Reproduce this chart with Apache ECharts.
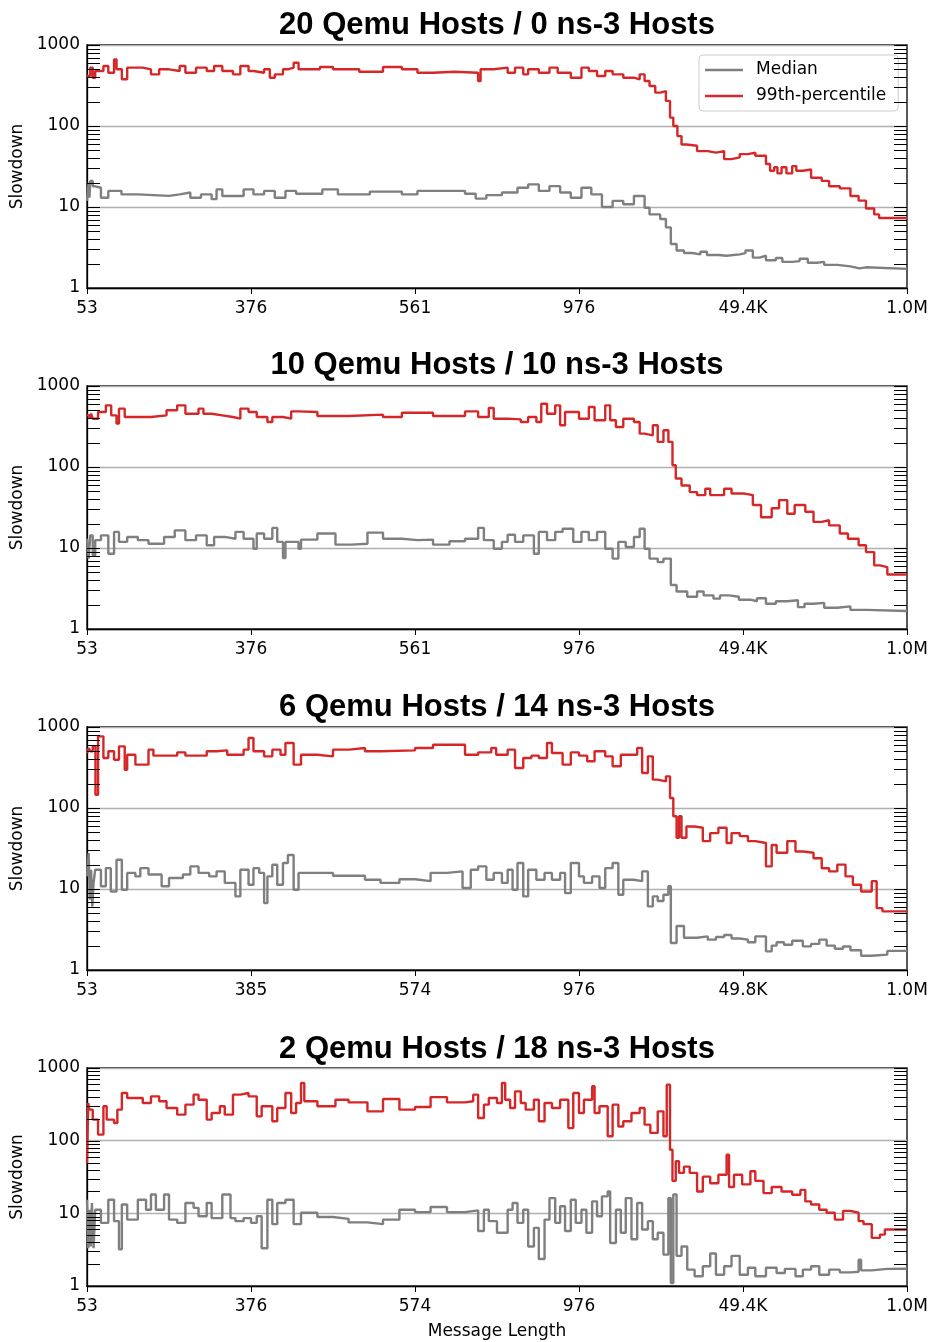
<!DOCTYPE html>
<html><head><meta charset="utf-8">
<script src="https://cdn.jsdelivr.net/npm/echarts/dist/echarts.min.js"></script>
<style>html,body{margin:0;padding:0;background:#fff}#c{width:931px;height:1342px}</style>
</head><body><div id="c"></div>
<script>
// ---------------- data ----------------
const titles = ['20 Qemu Hosts / 0 ns-3 Hosts','10 Qemu Hosts / 10 ns-3 Hosts','6 Qemu Hosts / 14 ns-3 Hosts','2 Qemu Hosts / 18 ns-3 Hosts'];
const xLabels20 = ['53','376','561','976','49.4K','1.0M'];
const xLabels10 = ['53','376','561','976','49.4K','1.0M'];
const xLabels6  = ['53','385','574','976','49.8K','1.0M'];
const xLabels2  = ['53','376','574','976','49.4K','1.0M'];
const yTickValues = [1,2,3,4,5,6,7,8,9,10,20,30,40,50,60,70,80,90,100,200,300,400,500,600,700,800,900,1000];

// [position along axis (%), slowdown]
const q20_med = [[0,11.9],[0.2,20],[0.3,13],[0.4,20.9],[0.7,18],[1.0,17.3],[1.7,13.0],[2.6,15.8],[4.2,14.3],[6.2,13.7],[10.0,14.3],[11.3,15.1],[12.6,13.0],[13.9,14.3],[15.2,12.5],[15.8,16.5],[16.5,13.7],[19.1,16.5],[20.3,14.3],[21.6,15.8],[22.9,13.0],[24.2,15.8],[25.5,14.6],[28.7,16.5],[30.6,14.3],[34.5,15.5],[38.4,14.3],[40.3,15.8],[46.1,14.6],[47.4,12.7],[48.7,14.0],[50.6,15.1],[52.5,17.3],[53.8,19.0],[55.1,15.8],[56.4,18.1],[57.7,15.1],[59.0,13.0],[60.3,17.3],[61.5,14.3],[62.8,10.0],[64.1,11.9],[65.4,10.8],[66.7,13.7],[68.0,9.8],[68.6,8.1],[69.9,7.1],[70.6,5.6],[71.2,3.5],[71.9,2.9],[72.8,2.7],[73.8,2.6],[74.8,2.8],[75.6,2.55],[77.0,2.5],[78.0,2.6],[79.6,2.7],[80.3,2.9],[81.2,2.37],[82.0,2.5],[82.8,2.2],[84.0,2.35],[84.8,2.1],[86.0,2.15],[86.9,2.3],[87.9,2.05],[89.0,2.1],[89.9,1.93],[91.5,1.85],[93.1,1.75],[94.2,1.8],[95.0,1.72]];
const q20_p99 = [[0,414],[0.4,525],[0.7,395],[1.0,477],[2.0,550],[2.6,455],[3.3,665],[3.6,501],[4.25,377],[4.9,525],[6.8,501],[7.8,434],[8.8,501],[10.0,477],[11.3,550],[12.0,455],[13.3,525],[14.6,477],[15.5,550],[16.5,477],[17.8,434],[18.7,550],[19.7,477],[20.3,455],[21.6,501],[22.3,395],[22.9,434],[23.9,501],[24.5,525],[25.2,605],[25.8,501],[28.4,535],[30.0,501],[33.2,468],[36.1,535],[38.4,501],[40.3,455],[42.2,468],[44.8,455],[47.7,359],[48.0,501],[49.6,525],[51.3,455],[52.2,525],[53.2,434],[53.8,501],[55.1,455],[56.4,525],[57.4,455],[59.0,395],[60.3,525],[61.2,477],[62.2,414],[63.2,477],[64.1,434],[65.4,395],[66.7,377],[67.4,434],[68.0,359],[68.6,312],[69.3,258],[69.9,270],[70.6,204],[71.1,127],[71.5,100],[72.0,75],[72.5,59],[73.1,57],[74.4,49],[75.7,47],[76.7,49],[77.7,39],[78.6,41],[79.6,45],[80.6,47],[81.5,43],[82.8,34],[83.3,28],[83.8,31],[84.2,26],[84.7,31],[85.3,26],[86.0,32],[86.5,28],[87.3,29],[88.3,23],[89.6,21],[90.5,18],[91.8,17],[93.1,13.7],[94.1,12],[95.0,9.6],[96.0,8.1],[96.6,7.3]];

const q10_med = [[0,13.0],[0.2,7.4],[0.4,14.3],[0.7,8.1],[1.0,12.5],[1.7,14.3],[2.6,8.5],[3.3,15.8],[3.9,11.9],[4.9,13.7],[6.2,12.5],[7.5,11.3],[9.4,13.7],[10.7,16.5],[12.0,12.5],[13.3,14.3],[14.6,10.8],[15.5,13.7],[16.8,13.0],[18.1,15.8],[19.1,13.0],[20.3,9.8],[20.7,15.1],[21.6,13.0],[22.6,17.7],[23.2,11.9],[23.9,7.5],[24.2,11.9],[25.8,9.8],[26.1,12.7],[28.1,15.1],[30.3,11.0],[32.3,11.3],[34.2,15.5],[36.1,13.0],[38.4,12.5],[40.3,12.7],[42.2,11.0],[44.2,12.1],[46.1,13.0],[47.7,17.7],[48.4,12.5],[49.6,9.8],[50.6,11.9],[51.3,14.6],[52.2,11.9],[53.2,14.3],[54.5,8.5],[55.1,15.8],[56.1,12.5],[57.1,15.8],[58.0,17.3],[59.3,11.9],[60.3,15.8],[61.2,12.5],[62.2,15.8],[63.2,9.8],[64.1,7.4],[64.8,11.9],[65.7,10.3],[66.7,13.7],[67.4,17.3],[68.0,9.8],[68.6,7.4],[69.6,6.7],[70.3,7.4],[71.2,3.5],[71.9,2.9],[73.2,2.5],[74.4,2.9],[75.2,2.6],[76.4,2.37],[77.2,2.6],[78.3,2.5],[79.5,2.3],[80.9,2.2],[81.7,2.4],[82.8,2.05],[84.0,2.2],[85.4,2.26],[86.7,1.86],[87.5,2.05],[88.6,2.1],[89.9,1.83],[91.5,1.9],[93.1,1.72],[95.0,1.67]];
const q10_p99 = [[0,434],[0.3,395],[0.5,455],[0.7,395],[1.35,477],[2.3,577],[2.95,434],[3.6,343],[3.9,525],[4.6,414],[7.8,434],[9.7,501],[11.0,577],[12.0,455],[13.6,525],[14.2,455],[15.2,434],[16.5,414],[17.8,395],[18.7,525],[19.7,477],[20.7,414],[22.0,359],[22.6,414],[23.9,395],[24.9,486],[25.8,477],[28.1,426],[31.9,443],[36.1,414],[38.4,468],[42.2,426],[46.1,486],[47.7,414],[49.0,535],[49.6,395],[51.3,387],[52.9,359],[53.8,414],[54.8,359],[55.4,605],[56.1,455],[57.1,577],[57.7,327],[58.3,477],[60.0,395],[61.2,550],[61.9,377],[63.2,577],[63.8,377],[64.5,312],[65.4,395],[66.7,359],[67.4,258],[68.0,246],[69.0,327],[69.6,204],[70.3,284],[70.9,204],[71.4,105],[71.8,72],[72.5,59],[73.5,49],[74.4,45],[75.4,54],[76.0,45],[77.7,54],[78.6,47],[80.2,45],[81.2,34],[82.2,24],[83.5,31],[84.4,39],[85.4,26.5],[86.3,34],[87.6,28],[88.6,21],[89.6,22],[90.5,19],[91.8,15.1],[92.8,13],[94.1,10.8],[95.0,8.9],[96.0,6.1],[96.7,5.8],[97.6,4.7]];

const q6_med = [[0,14.3],[0.2,27.8],[0.35,7.4],[0.5,17.3],[0.65,6.1],[0.8,11.9],[1.0,17.3],[1.7,10.8],[2.3,18.1],[2.9,9.3],[3.6,23],[4.25,9.8],[4.9,15.8],[5.9,14.3],[6.5,18.1],[7.5,15.1],[9.1,10.8],[10.0,13.7],[11.7,15.1],[12.6,19],[13.6,15.8],[14.9,14.3],[15.8,16.5],[16.8,11.9],[18.1,8.1],[18.7,17.3],[19.7,11.3],[20.3,18.1],[21.0,15.8],[21.6,6.7],[22.0,14.3],[22.6,19.9],[23.2,11.3],[23.9,20.9],[24.5,26.3],[25.2,9.8],[25.8,15.8],[30.0,14.6],[33.9,13.0],[35.8,11.9],[38.1,13.2],[40.0,12.5],[41.9,15.8],[43.9,16.5],[45.8,10.3],[46.8,17.3],[47.7,19],[48.7,13.0],[49.6,15.8],[50.6,11.9],[51.3,17.3],[51.9,9.8],[52.5,20.9],[53.2,8.1],[53.8,17.3],[54.8,13.0],[55.8,15.8],[56.7,13.0],[57.7,15.8],[58.3,8.9],[59.0,20.9],[60.0,14.3],[60.6,11.9],[61.6,14.3],[62.5,10.3],[63.2,18.1],[64.1,20.9],[64.8,8.5],[65.4,13.0],[66.7,12.5],[67.7,16.5],[68.4,6.1],[69.0,8.1],[69.6,7.1],[70.3,8.5],[70.9,10.8],[71.2,2.15],[71.9,3.5],[72.8,2.5],[74.4,2.6],[75.7,2.37],[76.7,2.55],[77.7,2.7],[78.6,2.45],[79.6,2.37],[80.6,2.2],[81.5,2.6],[82.8,1.7],[83.5,2.0],[84.1,2.2],[85.0,2.05],[86.0,2.3],[87.3,1.96],[88.3,2.1],[89.3,2.37],[90.2,2.0],[91.2,1.83],[92.2,1.95],[93.1,1.75],[94.4,1.5],[95.7,1.55],[97.6,1.72]];
const q6_p99 = [[0,477],[0.2,550],[0.4,501],[0.7,577],[1.03,146],[1.35,767],[2.0,414],[2.6,501],[3.3,395],[3.9,577],[4.6,297],[4.9,455],[5.9,343],[7.5,525],[8.1,443],[11.0,486],[12.0,443],[14.6,501],[15.8,515],[17.1,455],[19.1,525],[19.7,732],[20.3,501],[21.6,434],[22.6,525],[23.6,455],[24.2,634],[25.2,343],[26.1,455],[28.1,434],[30.0,525],[32.0,550],[33.9,501],[35.8,515],[40.0,550],[42.2,605],[46.1,455],[47.7,486],[49.3,550],[49.9,455],[51.3,525],[52.2,312],[53.2,414],[54.2,443],[55.1,414],[56.1,634],[56.7,477],[58.0,343],[59.0,486],[60.0,443],[61.0,377],[61.9,501],[63.2,434],[64.1,327],[65.1,455],[67.1,550],[67.7,270],[68.4,434],[69.0,224],[69.6,213],[70.6,246],[71.1,133],[71.5,79],[71.9,43],[72.2,79],[72.5,43],[73.1,59],[74.1,57],[75.1,39],[76.0,49],[77.0,57],[78.0,37],[78.6,49],[79.6,45],[80.6,39],[81.5,37],[82.8,19],[83.5,35],[84.1,28],[85.4,39],[86.4,29],[87.3,28],[88.6,24],[89.6,18],[90.5,16.5],[91.5,20],[92.5,14.3],[93.4,11.3],[94.4,9.3],[95.7,12.5],[96.3,5.8],[97.0,5.3]];

const q2_med = [[0,15.4],[0.15,3.3],[0.3,11.2],[0.45,3.5],[0.6,13.9],[0.8,3.3],[1.0,11.2],[1.7,7.4],[2.6,15.4],[3.3,7.8],[3.9,3.2],[4.25,13.2],[4.9,8.2],[6.2,15.4],[7.2,11.2],[7.8,18.2],[8.4,11.2],[9.4,18.2],[10.0,8.2],[11.0,7.4],[12.0,13.9],[13.0,11.9],[13.6,9.1],[14.6,13.9],[15.2,8.6],[16.5,18.2],[17.5,8.6],[18.1,7.8],[19.1,8.6],[20.0,7.4],[20.7,9.1],[21.3,3.3],[22.0,15.4],[22.6,7.1],[23.2,13.9],[24.2,15.4],[25.2,7.1],[26.1,10.2],[28.1,8.9],[30.0,8.4],[31.9,7.5],[34.2,7.1],[36.1,8.2],[38.1,11.2],[40.0,10.4],[41.9,12.2],[43.9,10.4],[46.1,11],[47.7,5.7],[48.4,11.2],[49.0,7.8],[50.0,5.4],[51.3,11.2],[51.9,13.9],[52.5,7.4],[53.2,11.2],[53.8,3.5],[54.5,6.3],[55.1,2.35],[55.8,8.2],[56.4,16.2],[57.1,7.4],[57.7,12.5],[58.3,5.7],[59.0,15.4],[59.6,7.4],[60.3,11.2],[60.9,5.4],[61.6,14.6],[62.2,9.1],[62.8,17.1],[63.5,20],[63.8,3.9],[64.5,11.2],[65.1,5.4],[65.7,16.2],[66.4,4.4],[67.1,13.9],[67.7,6.0],[68.4,7.8],[69.0,4.4],[69.6,5.4],[70.3,2.7],[70.9,16.2],[71.2,1.1],[71.5,18.2],[71.9,2.6],[72.5,3.5],[73.2,1.68],[74.1,1.36],[75.1,1.87],[76.0,2.8],[76.7,1.43],[77.7,1.87],[78.6,2.6],[79.6,1.43],[80.6,1.78],[81.5,1.36],[82.8,1.78],[84.1,1.51],[85.1,1.72],[86.4,1.36],[87.3,1.68],[88.3,1.87],[89.3,1.43],[90.5,1.68],[91.8,1.54],[93.1,1.57],[94.1,2.3],[94.4,1.64],[95.7,1.72],[97.6,1.73]];
const q2_p99 = [[0,49],[0.15,330],[0.3,267],[0.7,195],[1.35,121],[2.0,297],[2.4,195],[3.3,175],[3.7,267],[4.25,453],[4.9,387],[6.8,330],[7.8,407],[8.8,348],[9.7,282],[11.0,228],[12.0,313],[13.0,430],[13.6,366],[14.6,195],[15.2,240],[16.2,297],[16.8,228],[17.8,430],[18.7,453],[19.7,407],[20.7,216],[21.3,297],[22.6,185],[23.2,282],[24.2,453],[24.9,240],[25.5,330],[26.1,622],[26.5,348],[28.1,297],[30.3,366],[31.9,337],[34.2,253],[36.1,375],[38.1,267],[40.0,290],[41.9,398],[43.9,337],[46.1,348],[47.1,430],[47.7,205],[48.4,313],[49.0,387],[50.0,330],[50.6,622],[51.0,366],[51.6,282],[52.2,477],[52.9,330],[53.5,267],[54.5,366],[55.1,185],[55.8,330],[56.7,282],[57.7,366],[58.7,149],[59.3,453],[60.0,240],[60.6,366],[61.6,560],[61.9,240],[62.5,297],[63.5,115],[64.1,313],[64.8,157],[65.4,185],[66.4,240],[67.4,282],[68.0,166],[68.7,128],[69.6,253],[70.3,115],[70.7,590],[71.1,75],[71.4,28],[71.8,52],[72.2,36],[72.8,44],[73.5,36],[74.4,20],[75.1,32],[76.0,26],[77.0,34],[78.0,64],[78.3,23],[78.9,34],[79.9,25],[80.9,38],[81.5,28],[82.5,19],[83.5,23],[84.7,20],[86.0,18],[87.0,21],[87.6,14.6],[88.3,13.2],[89.3,11.2],[90.2,10.2],[91.2,8.2],[92.2,10.8],[93.1,10.2],[94.1,7.8],[94.7,7.1],[95.7,4.6],[96.7,5.1],[97.3,6.0]];

// ---------------- layout / style ----------------
const panels = [
  {title: titles[0], labels: xLabels20, med: q20_med, p99: q20_p99, top: 45,  height: 243, titleTop: 10},
  {title: titles[1], labels: xLabels10, med: q10_med, p99: q10_p99, top: 386, height: 243, titleTop: 350},
  {title: titles[2], labels: xLabels6,  med: q6_med,  p99: q6_p99,  top: 727, height: 243, titleTop: 692},
  {title: titles[3], labels: xLabels2,  med: q2_med,  p99: q2_p99,  top: 1068, height: 218, titleTop: 1034}
];
const LEFT = 87, WIDTH = 820, TICK = 13;
const GRAY = '#7f7f7f', RED = '#d62728';
const FONT = 'DejaVu Sans';

function stepSeries(name, color, pts, gi) {
  const data = pts.concat([[100, pts[pts.length - 1][1]]]);
  return {type: 'line', name: name, xAxisIndex: gi, yAxisIndex: gi, data: data,
    step: 'end', symbol: 'none', showSymbol: false, silent: true, clip: true,
    lineStyle: {color: color, width: 2.4}, itemStyle: {color: color}, z: 3};
}
function tickRender(params, api) {
  const y = Math.round(api.coord([0, api.value(1)])[1]) + 0.5;
  const cs = params.coordSys;
  return {type: 'group', children: [
    {type: 'line', shape: {x1: cs.x, y1: y, x2: cs.x + TICK, y2: y}, style: {stroke: '#000', lineWidth: 1}},
    {type: 'line', shape: {x1: cs.x + cs.width - TICK, y1: y, x2: cs.x + cs.width, y2: y}, style: {stroke: '#000', lineWidth: 1}}
  ]};
}

const grid = [], xAxis = [], yAxis = [], series = [], title = [];
panels.forEach(function (p, i) {
  grid.push({left: LEFT, top: p.top, width: WIDTH, height: p.height, show: true,
    borderColor: '#000', borderWidth: 1.3, backgroundColor: 'transparent', containLabel: false, outerBoundsMode: 'none'});
  const labels = p.labels;
  xAxis.push({type: 'value', gridIndex: i, min: 0, max: 100, interval: 20,
    axisLine: {show: true, onZero: false, lineStyle: {color: '#000', width: 1.3}},
    axisTick: {show: true, inside: false, length: 6, lineStyle: {color: '#000', width: 1}},
    splitLine: {show: false},
    axisLabel: {show: true, margin: 12, fontFamily: FONT, fontSize: 17, color: '#000',
      showMinLabel: true, showMaxLabel: true,
      formatter: function (v) { return labels[Math.round(v / 20)]; }},
    name: i === 3 ? 'Message Length' : '', nameLocation: 'middle', nameGap: 37,
    nameTextStyle: {fontFamily: FONT, fontSize: 17, color: '#000'}});
  yAxis.push({type: 'log', logBase: 10, gridIndex: i, min: 1, max: 1000,
    axisLine: {show: true, lineStyle: {color: '#000', width: 1.3}},
    axisTick: {show: false},
    splitLine: {show: true, lineStyle: {color: '#b0b0b0', width: 1.3}},
    axisLabel: {show: true, margin: 7, fontFamily: FONT, fontSize: 17, color: '#000',
      showMinLabel: true, showMaxLabel: true,
      formatter: function (v) { return String(Math.round(v)); }},
    name: 'Slowdown', nameLocation: 'middle', nameGap: 56,
    nameTextStyle: {fontFamily: FONT, fontSize: 17, color: '#000'}});
  series.push({type: 'custom', xAxisIndex: i, yAxisIndex: i, silent: true, z: 4,
    data: yTickValues.map(function (v) { return [0, v]; }), renderItem: tickRender});
  series.push(stepSeries('Median', GRAY, p.med, i));
  series.push(stepSeries('99th-percentile', RED, p.p99, i));
  title.push({text: p.title, left: LEFT + WIDTH / 2, textAlign: 'center', top: p.titleTop, padding: 0,
    textStyle: {fontFamily: 'Liberation Sans', fontWeight: 'bold', fontSize: 31, color: '#000'}});
});

const chart = echarts.init(document.getElementById('c'), null, {renderer: 'canvas', width: 931, height: 1342});
chart.setOption({
  animation: false,
  backgroundColor: '#fff',
  title: title,
  legend: {data: ['Median', '99th-percentile'], left: 699, top: 55, orient: 'vertical',
    icon: 'rect', itemWidth: 38, itemHeight: 2.5, itemGap: 6, padding: [5, 12, 5, 6],
    backgroundColor: 'rgba(255,255,255,0.85)', borderColor: '#cccccc', borderWidth: 1, borderRadius: 4,
    selectedMode: false,
    textStyle: {fontFamily: FONT, fontSize: 17, color: '#000', lineHeight: 20, padding: [0, 0, 0, 8]}},
  grid: grid, xAxis: xAxis, yAxis: yAxis, series: series
});
</script></body></html>
